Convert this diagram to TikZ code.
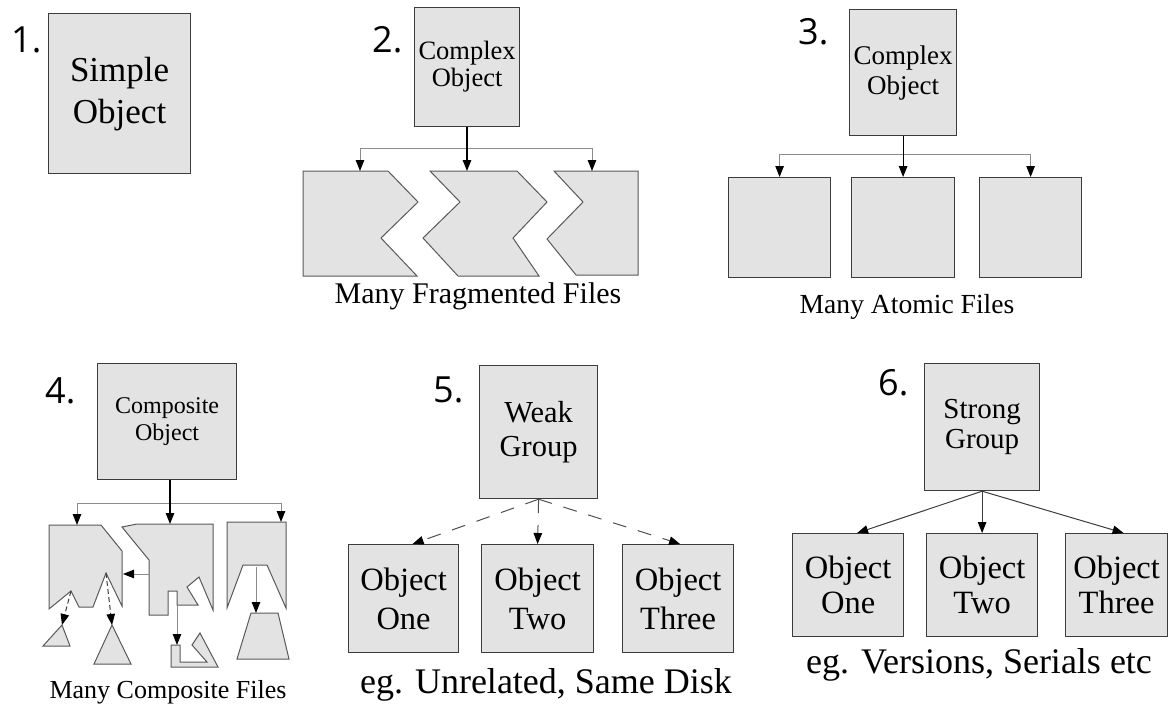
\documentclass[tikz,border=0pt]{standalone}
\usepackage{fontspec}
\setmainfont{Liberation Serif}
\newfontfamily\numfont{Open Sans}
\usetikzlibrary{arrows.meta}
\definecolor{boxfill}{HTML}{E3E3E3}
\definecolor{edge}{HTML}{3C3C3C}
\definecolor{sidegray}{HTML}{8C8C8C}
\begin{document}
\begin{tikzpicture}[x=1pt,y=-1pt,
  box/.style={draw=edge, fill=boxfill, line width=1.2pt, inner sep=0pt, align=center, anchor=north west},
  piece/.style={draw=edge!85, fill=boxfill, line width=1pt, line join=miter},
  tipped/.style={-{Triangle[length=11pt,width=8.5pt,color=black]}},
  mainarrow/.style={tipped, draw=black, line width=1.2pt},
  sidearrow/.style={tipped, draw=sidegray, line width=1pt},
  barline/.style={draw=sidegray, line width=1pt},
  num/.style={font=\numfont\fontsize{36}{36}\selectfont, anchor=base west, inner sep=0pt},
  caption/.style={anchor=base, inner sep=0pt},
]
\path[use as bounding box] (0,0) rectangle (1169,707);

% ---------- 1 ----------
\node[num] (n1) at (11,52) {1.};
\node[box, minimum width=142pt, minimum height=160pt, font=\fontsize{35}{42}\selectfont] (simple) at (48,13) {Simple\\Object};

% ---------- 2 ----------
\node[num] (n2) at (372,52) {2.};
\node[box, minimum width=105pt, minimum height=119pt, font=\fontsize{26.5}{27}\selectfont] (cx2) at (414,7) {Complex\\Object};
\draw[piece] (303,171) -- (388,171) -- (418,202) -- (381,238) -- (417,276) -- (303,276) -- cycle;
\draw[piece] (430,171) -- (517,171) -- (547,202) -- (513,238) -- (539,276) -- (458,276) -- (423,238) -- (460,202) -- cycle;
\draw[piece] (554,171) -- (638,171) -- (638,275) -- (576,275) -- (547,239) -- (583,202) -- cycle;
\coordinate (f2a) at (360,171);
\coordinate (f2b) at (467,171);
\coordinate (f2c) at (592,171);
\coordinate (b2l) at (360,148);
\coordinate (b2r) at (592,148);
\draw[barline] (b2l) -- (b2r);
\draw[sidearrow] (b2l) -- (f2a);
\draw[sidearrow] (b2r) -- (f2c);
\draw[mainarrow] (cx2.south -| f2b) -- (f2b);
\node[caption, font=\fontsize{30}{30}\selectfont] (cap2) at (478,303) {Many Fragmented Files};

% ---------- 3 ----------
\node[num] (n3) at (798,44) {3.};
\node[box, minimum width=107pt, minimum height=126pt, font=\fontsize{27}{30}\selectfont] (cx3) at (849,9) {Complex\\Object};
\node[box, minimum width=102pt, minimum height=100pt] (a1) at (728,177) {};
\node[box, minimum width=103pt, minimum height=100pt] (a2) at (851,177) {};
\node[box, minimum width=102pt, minimum height=100pt] (a3) at (979,177) {};
\coordinate (b3) at (901,154);
\draw[barline] (a1.north |- b3) -- (a3.north |- b3);
\draw[sidearrow] (a1.north |- b3) -- (a1.north);
\draw[sidearrow] (a3.north |- b3) -- (a3.north);
\draw[mainarrow] (cx3.south) -- (a2.north);
\node[caption, font=\fontsize{27.6}{28}\selectfont] (cap3) at (907,313) {Many Atomic Files};

% ---------- 4 ----------
\node[num] (n4) at (45,403) {4.};
\node[box, minimum width=139pt, minimum height=116pt, font=\fontsize{24}{27}\selectfont] (comp) at (97,363) {Composite\\Object};
% pieces
\draw[piece] (49,525) -- (101,525) -- (122,551) -- (122,606) -- (106,573) -- (93,607) -- (79,607) -- (71,591) -- (49,609) -- cycle;
\draw[piece] (122,527) -- (137,524) -- (213,524) -- (213,610) -- (199,577) -- (187,587) -- (198,605) -- (177,605) -- (177,591) -- (168,591) -- (168,615) -- (149,615) -- (149,560) -- cycle;
\draw[piece] (227,522) -- (286,522) -- (286,608) -- (267,565) -- (243,565) -- (227,608) -- cycle;
\draw[piece] (43,646) -- (62,625) -- (70,646) -- cycle;
\draw[piece] (94,664) -- (112,625) -- (131,664) -- cycle;
\draw[piece] (171,645) -- (171,667) -- (218,667) -- (200,633) -- (192,645) -- (207,662) -- (180,662) -- (180,645) -- cycle;
\draw[piece] (237,659) -- (251,613) -- (278,613) -- (289,659) -- cycle;
\coordinate (p4a) at (77,525);
\coordinate (p4b) at (170,524);
\coordinate (p4c) at (281,522);
\coordinate (b4l) at (77,503);
\coordinate (b4r) at (281,503);
\draw[barline] (b4l) -- (b4r);
\draw[sidearrow] (b4l) -- (p4a);
\draw[sidearrow] (b4r) -- (p4c);
\draw[mainarrow] (comp.south -| p4b) -- (p4b);
% inner arrows
\coordinate (ia1) at (149,574);
\coordinate (ia2) at (123,574);
\draw[sidearrow] (ia1) -- (ia2);
\coordinate (pk1) at (71,591);
\coordinate (t1) at (62,625);
\coordinate (pk2) at (106,573);
\coordinate (t2) at (112,625);
\draw[tipped, draw=edge, line width=1pt, dash pattern=on 5pt off 3pt] (pk1) -- (t1);
\draw[tipped, draw=edge, line width=1pt, dash pattern=on 5pt off 3pt] (pk2) -- (t2);
\coordinate (hk0) at (177,605);
\coordinate (hk1) at (177,645);
\draw[tipped, draw=sidegray, line width=1pt] (hk0) -- (hk1);
\coordinate (tr0) at (256,567);
\coordinate (tr1) at (256,613);
\draw[tipped, draw=sidegray, line width=1pt] (tr0) -- (tr1);
\node[caption, font=\fontsize{26}{26}\selectfont] (cap4) at (168,698) {Many Composite Files};

% ---------- 5 ----------
\node[num] (n5) at (433,402) {5.};
\node[box, minimum width=118pt, minimum height=133pt, font=\fontsize{30.5}{34}\selectfont] (weak) at (479,365) {Weak\\Group};
\node[box, minimum width=110pt, minimum height=108pt, font=\fontsize{32.5}{39}\selectfont] (w1) at (348,544) {Object\\One};
\node[box, minimum width=112pt, minimum height=108pt, font=\fontsize{32.5}{39}\selectfont] (w2) at (481,544) {Object\\Two};
\node[box, minimum width=111pt, minimum height=108pt, font=\fontsize{32.5}{39}\selectfont] (w3) at (622,544) {Object\\Three};
\draw[tipped, draw=edge!90, line width=1pt, dash pattern=on 14pt off 12pt] (weak.south) -- ([xshift=9pt]w1.north);
\draw[tipped, draw=edge!90, line width=1pt, dash pattern=on 14pt off 12pt] (weak.south) -- (w2.north);
\draw[tipped, draw=edge!90, line width=1pt, dash pattern=on 14pt off 12pt] (weak.south) -- ([xshift=2pt]w3.north);
\node[caption, font=\fontsize{36}{36}\selectfont] (cap5) at (546,693) {eg. Unrelated, Same Disk};

% ---------- 6 ----------
\node[num] (n6) at (878,395) {6.};
\node[box, minimum width=115pt, minimum height=127pt, font=\fontsize{29}{30}\selectfont] (strong) at (924,363) {Strong\\Group};
\node[box, minimum width=111pt, minimum height=103pt, font=\fontsize{32.5}{35}\selectfont] (s1) at (792,533) {Object\\One};
\node[box, minimum width=111pt, minimum height=103pt, font=\fontsize{32.5}{35}\selectfont] (s2) at (926,533) {Object\\Two};
\node[box, minimum width=102pt, minimum height=103pt, font=\fontsize{32.5}{35}\selectfont] (s3) at (1065,533) {Object\\Three};
\draw[tipped, draw=edge, line width=1pt] (strong.south) -- ([xshift=9pt]s1.north);
\draw[tipped, draw=edge, line width=1pt] (strong.south) -- (s2.north);
\draw[tipped, draw=edge, line width=1pt] (strong.south) -- ([xshift=7pt]s3.north);
\node[caption, font=\fontsize{36}{36}\selectfont] (cap6) at (979,673) {eg. Versions, Serials etc};
\end{tikzpicture}
\end{document}
